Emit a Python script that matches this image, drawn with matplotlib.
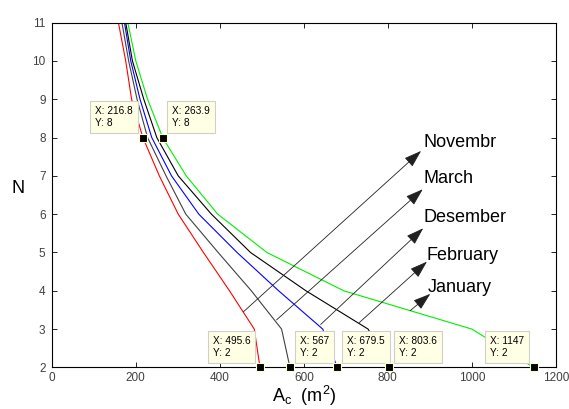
import matplotlib
matplotlib.use('Agg')
import matplotlib.pyplot as plt

plt.rcParams['font.family'] = ['Liberation Sans', 'DejaVu Sans']
plt.rcParams['mathtext.fontset'] = 'custom'
plt.rcParams['mathtext.rm'] = 'Liberation Sans'
plt.rcParams['mathtext.it'] = 'Liberation Sans:italic'

# Number of stages N and collector area Ac for each month
N = [2, 3, 4, 5, 6, 7, 8, 9, 10, 11]
months = ['Novembr', 'March', 'Desember', 'February', 'January']
Ac_novembr = [495.6, 482, 423, 361, 301, 256, 216.8, 190, 176, 158.6]
Ac_march = [567, 547, 475, 396, 319, 272, 228, 203, 183, 167]
Ac_desember = [679.5, 645, 540, 441, 350, 285, 238, 210, 188, 173]
Ac_february = [803.6, 753, 605, 473, 380, 301, 250, 219, 192, 176]
Ac_january = [1147, 1000, 695, 512, 395, 320, 263.9, 228, 200, 181]

# data tips (x, y, which side the box goes)
tips_x = [216.8, 263.9, 495.6, 567, 679.5, 803.6, 1147]
tips_y = [8, 8, 2, 2, 2, 2, 2]
tips_side = ['left', 'right', 'left', 'right', 'right', 'right', 'left']

# arrows from curves to month names
arrow_from = [(456, 3.45), (535, 3.24), (640, 3.12), (732, 3.17), (853, 3.48)]
arrow_to = [(879, 7.65), (883, 6.65), (884, 5.63), (893, 4.76), (901, 3.92)]
label_at = [(885, 7.76), (886, 6.82), (886, 5.80), (891, 4.80), (895, 3.98)]

fig = plt.figure(figsize=(5.69, 4.09), dpi=100)
ax = fig.add_axes([0.091, 0.1017, 0.886, 0.843])

ax.plot(Ac_novembr, N, color='red', lw=0.8)
ax.plot(Ac_march, N, color='#404040', lw=0.8)
ax.plot(Ac_desember, N, color='blue', lw=0.8)
ax.plot(Ac_february, N, color='black', lw=0.8)
ax.plot(Ac_january, N, color='#00ee00', lw=0.8)

# arrows + labels
for start, tip, pos, name in zip(arrow_from, arrow_to, label_at, months):
    ax.annotate('', xy=tip, xytext=start,
                arrowprops=dict(arrowstyle='-|>,head_length=0.9,head_width=0.3',
                                color='#202020', lw=0.6, mutation_scale=12,
                                shrinkA=0, shrinkB=0))
    ax.text(pos[0], pos[1], name, fontsize=13, ha='left', va='baseline')

# data tips
for x, y, side in zip(tips_x, tips_y, tips_side):
    ax.plot(x, y, 's', ms=6, mfc='black', mec='#ffffcc', mew=0.8,
            zorder=6, clip_on=False)
    dx = -7 if side == 'left' else 7
    ax.annotate('X: %g\nY: %g' % (x, y), xy=(x, y), xytext=(dx, 7),
                textcoords='offset points', fontsize=7.3,
                ha='right' if side == 'left' else 'left', va='bottom',
                multialignment='left', zorder=5,
                bbox=dict(boxstyle='square,pad=0.5', fc='#ffffe6',
                          ec='#d0d0c8', lw=0.8))

ax.set_xlim(0, 1200)
ax.set_ylim(2, 11)
ax.set_xticks(range(0, 1201, 200))
ax.set_yticks(range(2, 12))
ax.tick_params(direction='in', top=True, right=True, labelsize=8.5,
               labelcolor='#404040', length=3.5, width=0.6)
ax.tick_params(axis='y', pad=4.5)
ax.tick_params(axis='x', pad=3.5)
for s in ax.spines.values():
    s.set_linewidth(0.8)

ax.set_xlabel(r'A$_{\rm c}$  (m$^{2}$)', fontsize=13, labelpad=0)
ax.set_ylabel('N', fontsize=13, rotation=0, ha='center', va='center')
ax.yaxis.set_label_coords(-0.067, 0.52)

fig.savefig('out.png', dpi=100)
